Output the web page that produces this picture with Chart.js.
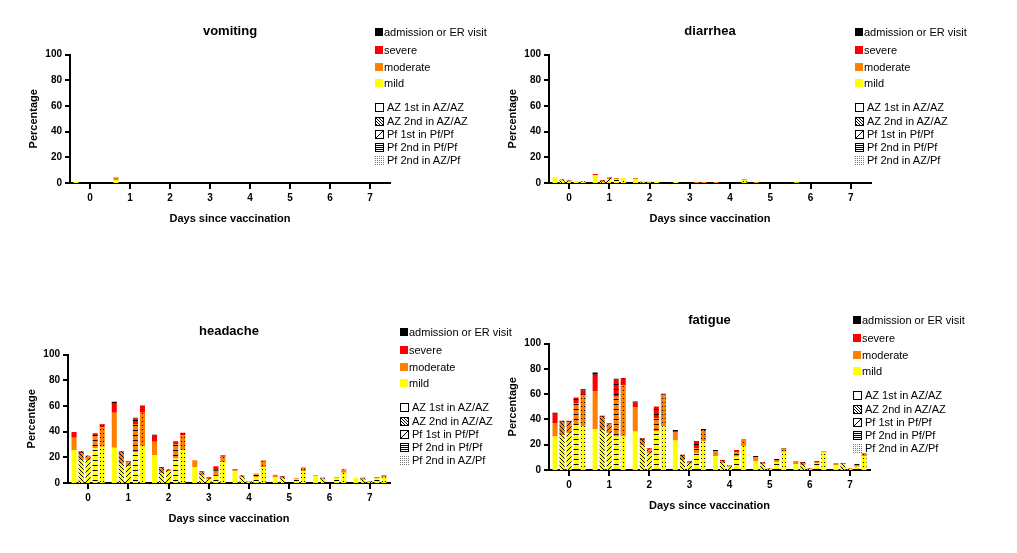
<!DOCTYPE html>
<html>
<head>
<meta charset="utf-8">
<script src="https://cdn.jsdelivr.net/npm/chart.js@4.4.1/dist/chart.umd.min.js"></script>
<style>
  body { margin: 0; background: #fff; font-family: "Liberation Sans", Arial, sans-serif; }
  #wrap { position: relative; width: 1017px; height: 553px; overflow: hidden; }
  #wrap canvas.chart { position: absolute; }
  .legend { position: absolute; font-size: 11px; color: #000; }
  .legend .item { position: absolute; left: 0; height: 12px; line-height: 12px; white-space: nowrap; display: flex; align-items: center; }
  .legend .sw { width: 8px; height: 8px; margin-right: 1px; }
  .legend canvas.psw { margin-right: 3px; }
</style>
</head>
<body>
<div id="wrap">
  <canvas id="c-vomiting" class="chart" width="400" height="230" style="left:20px;top:0px"></canvas>
  <canvas id="c-diarrhea" class="chart" width="400" height="230" style="left:499px;top:0px"></canvas>
  <canvas id="c-headache" class="chart" width="400" height="230" style="left:18px;top:300px"></canvas>
  <canvas id="c-fatigue" class="chart" width="400" height="228" style="left:499px;top:289px"></canvas>
</div>
<script>
// ==========================================================================
// Data (rows: AZ 1st, AZ 2nd, Pf 1st, Pf 2nd, Pf 2nd in AZ/Pf; columns: day 0..7)
// ==========================================================================
const days = ['0', '1', '2', '3', '4', '5', '6', '7'];
const groups = ['AZ 1st in AZ/AZ', 'AZ 2nd in AZ/AZ', 'Pf 1st in Pf/Pf', 'Pf 2nd in Pf/Pf', 'Pf 2nd in AZ/Pf'];
const severities = ['mild', 'moderate', 'severe', 'admission or ER visit'];

const vomitingMild = [
  [0.8, 2.1, 0, 0, 0, 0, 0, 0],
  [0, 0, 0, 0, 0, 0, 0, 0],
  [0, 0, 0, 0, 0, 0, 0, 0],
  [0, 0, 0, 0, 0, 0, 0, 0],
  [0, 0, 0, 0, 0, 0, 0, 0]
];
const vomitingModerate = [
  [0, 2.3, 0, 0, 0, 0, 0, 0],
  [0, 0, 0, 0, 0, 0, 0, 0],
  [0, 0, 0, 0, 0, 0, 0, 0],
  [0, 0, 0, 0, 0, 0, 0, 0],
  [0, 0, 0, 0, 0, 0, 0, 0]
];
const vomitingSevere = [
  [0, 0, 0, 0, 0, 0, 0, 0],
  [0, 0, 0, 0, 0, 0, 0, 0],
  [0, 0, 0, 0, 0, 0, 0, 0],
  [0, 0, 0, 0, 0, 0, 0, 0],
  [0, 0, 0, 0, 0, 0, 0, 0]
];
const vomitingAdmission = [
  [0, 0, 0, 0, 0, 0, 0, 0],
  [0, 0, 0, 0, 0, 0, 0, 0],
  [0, 0, 0, 0, 0, 0, 0, 0],
  [0, 0, 0, 0, 0, 0, 0, 0],
  [0, 0, 0, 0, 0, 0, 0, 0]
];

const diarrheaMild = [
  [4.5, 6.0, 3.0, 0.8, 0, 0, 0.5, 0],
  [2.0, 0.8, 0.5, 0, 0, 0, 0, 0],
  [1.0, 3.2, 0.6, 0, 0, 0, 0, 0],
  [1.3, 3.2, 0.8, 0, 0, 0, 0, 0],
  [1.3, 3.8, 0, 0, 2.3, 0, 0, 0]
];
const diarrheaModerate = [
  [0, 0, 0.8, 0, 0.8, 0.8, 0, 0],
  [0.9, 0.8, 0.5, 0, 0, 0, 0, 0],
  [0.8, 1.0, 0.4, 0, 0, 0, 0, 0],
  [0, 0.6, 0, 0.8, 0, 0, 0, 0],
  [0, 0, 0, 0.8, 0.6, 0, 0, 0]
];
const diarrheaSevere = [
  [0, 1.0, 0, 0, 0, 0, 0, 0],
  [0, 0.5, 0, 0, 0, 0, 0, 0],
  [0.3, 0, 0, 0, 0, 0, 0, 0],
  [0, 0, 0, 0, 0, 0, 0, 0],
  [0, 0, 0, 0, 0, 0, 0, 0]
];
const diarrheaAdmission = [
  [0, 0, 0, 0, 0, 0, 0, 0],
  [0, 0, 0, 0, 0, 0, 0, 0],
  [0, 0.3, 0, 0, 0, 0, 0, 0],
  [0, 0, 0, 0, 0, 0, 0, 0],
  [0, 0, 0, 0, 0, 0, 0, 0]
];

const headacheMild = [
  [25.6, 27.4, 21.7, 12.5, 9.1, 4.4, 5.5, 4.0],
  [17.8, 15.0, 7.8, 6.0, 4.5, 3.5, 2.8, 2.5],
  [17.8, 13.0, 9.4, 3.0, 1.0, 0, 0, 0.8],
  [27.0, 23.8, 19.0, 6.0, 4.4, 2.8, 4.0, 3.7],
  [28.2, 28.7, 25.6, 16.4, 12.5, 9.1, 8.0, 4.4]
];
const headacheModerate = [
  [9.6, 27.4, 10.4, 5.3, 0.8, 2.1, 0.5, 0],
  [5.5, 8.5, 3.7, 2.3, 1.5, 1.2, 0.8, 1.0],
  [3.6, 3.2, 1.3, 0.9, 0.5, 0, 0, 0.5],
  [10.4, 22.1, 11.0, 4.0, 2.4, 0.9, 0.3, 0.4],
  [15.0, 26.1, 11.3, 4.0, 5.3, 3.2, 2.7, 1.9]
];
const headacheSevere = [
  [4.5, 7.6, 5.2, 0, 0.8, 0, 0, 0],
  [1.5, 1.3, 1.0, 0.8, 0, 0.5, 0.4, 0.5],
  [0, 0.8, 0, 0.5, 0, 0, 0, 0.2],
  [1.3, 4.4, 2.6, 3.0, 0.5, 0, 0.4, 0.6],
  [2.5, 5.5, 2.3, 1.3, 0, 0, 0, 0]
];
const headacheAdmission = [
  [0, 0.8, 0.3, 0, 0, 0, 0, 0],
  [0, 0, 0, 0, 0, 0, 0, 0],
  [0, 0, 0, 0, 0, 0, 0, 0],
  [0, 0.5, 0, 0, 0, 0, 0, 0],
  [0.3, 0, 0, 0, 0, 0, 0, 0]
];

const fatigueMild = [
  [26.5, 32.5, 30.4, 23.3, 11.1, 7.1, 4.8, 4.0],
  [27.5, 31.7, 19.8, 8.0, 5.3, 4.5, 4.0, 4.5],
  [29.0, 29.0, 13.2, 5.0, 2.6, 1.0, 0.8, 1.0],
  [35.7, 26.5, 30.4, 13.2, 10.6, 6.3, 5.3, 2.6],
  [34.4, 26.5, 34.4, 23.0, 19.0, 14.5, 14.0, 11.1]
];
const fatigueModerate = [
  [10.6, 29.6, 19.0, 6.3, 3.7, 3.2, 2.3, 1.6],
  [10.0, 9.8, 4.0, 3.0, 1.6, 1.2, 1.5, 0.5],
  [9.0, 7.0, 3.0, 1.5, 1.0, 0.4, 0.3, 0.4],
  [17.2, 31.5, 10.6, 4.0, 3.5, 2.4, 1.0, 2.2],
  [25.0, 40.5, 25.0, 8.7, 5.6, 2.5, 0.8, 2.4]
];
const fatigueSevere = [
  [7.4, 13.2, 4.0, 1.3, 0, 0, 0, 0],
  [1.4, 1.3, 1.3, 1.0, 1.0, 0.6, 0.8, 0.6],
  [0.9, 1.0, 1.0, 0.6, 0.4, 0.2, 0.5, 0.2],
  [4.5, 13.5, 9.3, 5.8, 1.8, 0, 0.8, 0],
  [3.5, 5.8, 0.5, 0, 0, 0, 0.3, 0]
];
const fatigueAdmission = [
  [0.8, 1.8, 0.8, 0.8, 1.0, 0.8, 0, 0],
  [0, 0.2, 0, 0, 0, 0, 0, 0],
  [0, 0, 0, 0, 0, 0, 0, 0],
  [0, 0.7, 0, 0, 0, 0, 0, 0],
  [1.0, 0, 0.4, 0.8, 0, 0.5, 0, 0]
];

// ==========================================================================
// Styles
// ==========================================================================
const sevColors = ['#ffff00', '#ff8000', '#ff0000', '#000000'];
const patternKinds = ['none', 'back', 'fwd', 'hline', 'dots'];

Chart.defaults.font.family = '"Liberation Sans", Arial, sans-serif';
Chart.defaults.color = '#000';

function drawPattern(ctx, kind, w, h, ink) {
  ctx.strokeStyle = ink;
  ctx.fillStyle = ink;
  if (kind === 'back') {
    ctx.lineWidth = 1;
    ctx.beginPath();
    ctx.moveTo(-1, -1); ctx.lineTo(w + 1, h + 1);
    ctx.moveTo(-1, h - 1); ctx.lineTo(1, h + 1);
    ctx.moveTo(w - 1, -1); ctx.lineTo(w + 1, 1);
    ctx.stroke();
  } else if (kind === 'fwd') {
    ctx.lineWidth = 1;
    ctx.beginPath();
    ctx.moveTo(-1, h + 1); ctx.lineTo(w + 1, -1);
    ctx.moveTo(-1, 1); ctx.lineTo(1, -1);
    ctx.moveTo(w - 1, h + 1); ctx.lineTo(w + 1, h - 1);
    ctx.stroke();
  } else if (kind === 'hline') {
    ctx.fillRect(0, 0, w, 1);
  } else if (kind === 'dots') {
    ctx.fillRect(1, 1, 1, 1);
  }
}

const tileSize = { back: [4, 4], fwd: [5, 5], hline: [5, 5], dots: [3, 4] };

function makeFill(color, gi) {
  const kind = patternKinds[gi];
  if (kind === 'none') return color;
  const [w, h] = tileSize[kind];
  const c = document.createElement('canvas');
  c.width = w; c.height = h;
  const ctx = c.getContext('2d');
  ctx.fillStyle = color;
  ctx.fillRect(0, 0, w, h);
  drawPattern(ctx, kind, w, h, color === '#000000' ? '#555' : '#000');
  return ctx.createPattern(c, 'repeat');
}

// tick marks outside the plot, at every scale tick
const tickMarks = {
  id: 'tickMarks',
  afterDraw(chart) {
    const { ctx, chartArea } = chart;
    const xs = chart.scales.x;
    const ys = chart.scales.y;
    ctx.save();
    ctx.strokeStyle = '#000';
    ctx.lineWidth = 2;
    ctx.beginPath();
    xs.ticks.forEach((t, i) => {
      const px = Math.round(xs.getPixelForTick(i));
      ctx.moveTo(px, chartArea.bottom);
      ctx.lineTo(px, chartArea.bottom + 6);
    });
    ys.ticks.forEach((t, i) => {
      const py = Math.round(ys.getPixelForTick(i));
      ctx.moveTo(chartArea.left - 5, py);
      ctx.lineTo(chartArea.left, py);
    });
    ctx.stroke();
    ctx.restore();
  }
};

// ==========================================================================
// Chart builder
// ==========================================================================
function buildChart(id, title, series, rightPad, xAxisHeight) {
  const datasets = [];
  groups.forEach((g, gi) => {
    series.forEach((arr, si) => {
      datasets.push({
        label: g + ' - ' + severities[si],
        data: arr[gi],
        stack: 'g' + gi,
        backgroundColor: makeFill(sevColors[si], gi),
        borderWidth: 0,
        categoryPercentage: 0.875,
        barPercentage: 0.72
      });
    });
  });

  return new Chart(document.getElementById(id), {
    type: 'bar',
    data: { labels: days, datasets: datasets },
    plugins: [tickMarks],
    options: {
      responsive: false,
      animation: false,
      devicePixelRatio: 1,
      layout: { padding: { left: 0, right: rightPad, top: 0, bottom: 0 } },
      plugins: {
        legend: { display: false },
        tooltip: { enabled: false },
        title: {
          display: true,
          text: title,
          fullSize: false,
          color: '#000',
          font: { size: 13, weight: 'bold' },
          padding: { top: 24, bottom: 15 }
        }
      },
      scales: {
        x: {
          type: 'category',
          offset: true,
          grid: { display: false, drawTicks: true, tickLength: 6, offset: false },
          border: { display: true, color: '#000', width: 2 },
          ticks: { color: '#000', font: { size: 10, weight: 'bold' }, padding: 3, maxRotation: 0, autoSkip: false },
          title: { display: true, text: 'Days since vaccination', color: '#000', font: { size: 11, weight: 'bold' }, padding: { top: 0, bottom: 4 } },
          afterFit(s) { s.height = xAxisHeight; }
        },
        y: {
          stacked: true,
          min: 0,
          max: 100,
          ticks: { stepSize: 20, color: '#000', font: { size: 10, weight: 'bold' }, padding: 3 },
          grid: { display: false, drawTicks: true, tickLength: 5 },
          border: { display: true, color: '#000', width: 2 },
          title: { display: true, text: 'Percentage', color: '#000', font: { size: 11, weight: 'bold' }, padding: { top: 7, bottom: 0 } },
          afterFit(s) { s.width = 50; }
        }
      }
    }
  });
}

// ==========================================================================
// HTML legends
// ==========================================================================
const legendRows = [0, 18, 35, 51, 75, 89, 102, 115, 128];
const legendColorItems = [
  ['#000000', 'admission or ER visit'],
  ['#ff0000', 'severe'],
  ['#ff8000', 'moderate'],
  ['#ffff00', 'mild']
];

function patternSwatch(gi) {
  const c = document.createElement('canvas');
  c.width = 9; c.height = 9;
  c.className = 'psw';
  const ctx = c.getContext('2d');
  ctx.fillStyle = '#fff';
  ctx.fillRect(0, 0, 9, 9);
  if (gi === 4) {
    ctx.fillStyle = '#777';
    for (let x = 0; x < 9; x += 2) {
      for (let y = 0; y < 9; y += 2) ctx.fillRect(x, y, 1, 1);
    }
    return c;
  }
  ctx.strokeStyle = '#000';
  ctx.lineWidth = 1;
  ctx.strokeRect(0.5, 0.5, 8, 8);
  ctx.beginPath();
  if (gi === 1) {
    for (let k = -6; k <= 6; k += 3) { ctx.moveTo(1 + k, 1); ctx.lineTo(8 + k, 8); }
  } else if (gi === 2) {
    ctx.moveTo(1, 8); ctx.lineTo(8, 1);
  } else if (gi === 3) {
    for (let y = 2.5; y < 8; y += 2) { ctx.moveTo(1, y); ctx.lineTo(8, y); }
  }
  ctx.stroke();
  return c;
}

function buildLegend(left, top) {
  const box = document.createElement('div');
  box.className = 'legend';
  box.style.left = left + 'px';
  box.style.top = top + 'px';
  legendColorItems.forEach(([color, text], i) => {
    const item = document.createElement('div');
    item.className = 'item';
    item.style.top = legendRows[i] + 'px';
    const sw = document.createElement('span');
    sw.className = 'sw';
    sw.style.background = color;
    item.appendChild(sw);
    item.appendChild(document.createTextNode(text));
    box.appendChild(item);
  });
  groups.forEach((g, gi) => {
    const item = document.createElement('div');
    item.className = 'item';
    item.style.top = legendRows[4 + gi] + 'px';
    item.appendChild(patternSwatch(gi));
    item.appendChild(document.createTextNode(g));
    box.appendChild(item);
  });
  document.getElementById('wrap').appendChild(box);
}

// ==========================================================================
// Render
// ==========================================================================
buildChart('c-vomiting', 'vomiting', [vomitingMild, vomitingModerate, vomitingSevere, vomitingAdmission], 30, 47);
buildChart('c-diarrhea', 'diarrhea', [diarrheaMild, diarrheaModerate, diarrheaSevere, diarrheaAdmission], 28, 47);
buildChart('c-headache', 'headache', [headacheMild, headacheModerate, headacheSevere, headacheAdmission], 28, 47);
buildChart('c-fatigue', 'fatigue', [fatigueMild, fatigueModerate, fatigueSevere, fatigueAdmission], 29, 47);

buildLegend(375, 26);
buildLegend(855, 26);
buildLegend(400, 326);
buildLegend(853, 314);
</script>
</body>
</html>
